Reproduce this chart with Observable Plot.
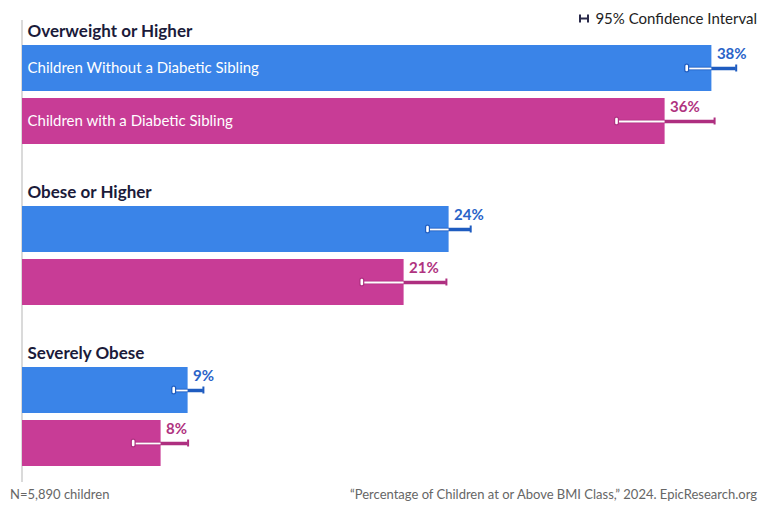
<!DOCTYPE html>
<html>
<head>
<meta charset="utf-8">
<script src="https://cdn.jsdelivr.net/npm/d3@7"></script>
<script src="https://cdn.jsdelivr.net/npm/@observablehq/plot@0.6"></script>
<style>
  body { margin: 0; background: #fff; font-family: Lato, "Noto Sans", sans-serif; }
  #chart { position: relative; width: 768px; height: 512px; overflow: hidden; }
  #chart svg { display: block; }
  .legend { position: absolute; top: 9px; right: 11px; font-size: 15px; color: #222; display: flex; align-items: center; gap: 6px; line-height: 18px; }
  .footer { display: flex; justify-content: space-between; padding: 0 11px 0 10px; font-size: 13px; color: #666; height: 27px; line-height: 18px; }
</style>
</head>
<body>
<div id="chart"></div>
<script>
// BMI classes (one group of bars each) and the two cohorts compared
const groups = ["Overweight or Higher", "Obese or Higher", "Severely Obese"];
const series = ["Children Without a Diabetic Sibling", "Children with a Diabetic Sibling"];

// Share of children at or above each BMI class (%), with 95% confidence limits
const withoutSibling = [38.3, 23.7, 9.2];
const withoutLow = [36.9, 22.5, 8.4];
const withoutHigh = [39.65, 24.9, 10.05];

const withSibling = [35.7, 21.2, 7.7];
const withLow = [33.0, 18.85, 6.15];
const withHigh = [38.45, 23.55, 9.2];

const sampleNote = "N=5,890 children";
const sourceNote = "\u201CPercentage of Children at or Above BMI Class,\u201D 2024. EpicResearch.org";
const legendLabel = "95% Confidence Interval";

// Colours per cohort
const barColor = {[series[0]]: "#3A84E8", [series[1]]: "#C83C96"};
const labelColor = {[series[0]]: "#2A63C8", [series[1]]: "#B0337F"};
const ciColor = {[series[0]]: "#1F5CC0", [series[1]]: "#AE2F80"};

const rows = groups.flatMap((g, i) => [
  {group: g, series: series[0], value: withoutSibling[i], lo: withoutLow[i], hi: withoutHigh[i]},
  {group: g, series: series[1], value: withSibling[i], lo: withLow[i], hi: withHigh[i]}
]);

const chart = Plot.plot({
  width: 768,
  height: 485,
  marginLeft: 22,
  marginRight: 26,
  marginTop: 18,
  marginBottom: 16,
  style: {fontFamily: "Lato, 'Noto Sans', sans-serif", background: "#fff"},
  x: {domain: [0, 40], axis: null},
  y: {domain: series, axis: null, insetTop: 26, paddingInner: 0.13, paddingOuter: 0},
  fy: {domain: groups, axis: null, paddingInner: 0.216, paddingOuter: 0},
  marks: [
    // baseline at zero, running the full height of the panel
    Plot.frame({facet: "super", anchor: "left", stroke: "#b5b5b5", insetTop: 1, insetBottom: -14, dx: -0.5}),
    // bars
    Plot.barX(rows, {fy: "group", y: "series", x: "value", fill: d => barColor[d.series]}),
    // group titles
    Plot.text(groups, {fy: d => d, text: d => d, frameAnchor: "top-left", dx: 5, dy: 5,
      fontSize: 17, fontWeight: 700, fill: "#1B1B3A"}),
    // cohort names inside the first pair of bars
    Plot.text(rows.filter(d => d.group === groups[0]), {fy: "group", y: "series", x: 0, text: "series",
      dx: 5, textAnchor: "start", fontSize: 15, fill: "white"}),
    // confidence interval line: solid outside the bar, hollow where it crosses the bar
    Plot.ruleY(rows, {fy: "group", y: "series", x1: "lo", x2: "hi", stroke: d => ciColor[d.series], strokeWidth: 3.5}),
    Plot.ruleY(rows, {fy: "group", y: "series", x1: "lo", x2: d => Math.min(d.value, d.hi), stroke: "white", strokeWidth: 1.8}),
    // upper limit cap
    Plot.tickX(rows, {fy: "group", y: "series", x: "hi", stroke: d => ciColor[d.series], strokeWidth: 2,
      insetTop: 19.5, insetBottom: 19.5}),
    // lower limit capsule
    Plot.tickX(rows, {fy: "group", y: "series", x: "lo", stroke: d => ciColor[d.series], strokeWidth: 5,
      strokeLinecap: "round", insetTop: 21, insetBottom: 21}),
    Plot.tickX(rows, {fy: "group", y: "series", x: "lo", stroke: "white", strokeWidth: 2.6,
      strokeLinecap: "round", insetTop: 21, insetBottom: 21}),
    // value labels
    Plot.text(rows, {fy: "group", y: "series", x: "value", text: d => `${Math.round(d.value)}%`,
      dx: 5, dy: -14, textAnchor: "start", fontSize: 15, fontWeight: 700, fill: d => labelColor[d.series]})
  ]
});

const root = document.getElementById("chart");
root.appendChild(chart);

// legend for the interval glyph
const legend = document.createElement("div");
legend.className = "legend";
legend.innerHTML = `<svg width="10" height="9" viewBox="0 0 10 9"><path d="M1 0.5V8.5M9 0.5V8.5M1 4.5H9" stroke="#2A2A4A" stroke-width="2" fill="none"/></svg><span>${legendLabel}</span>`;
root.appendChild(legend);

// footer notes
const footer = document.createElement("div");
footer.className = "footer";
footer.innerHTML = `<span>${sampleNote}</span><span>${sourceNote}</span>`;
root.appendChild(footer);
</script>
</body>
</html>
